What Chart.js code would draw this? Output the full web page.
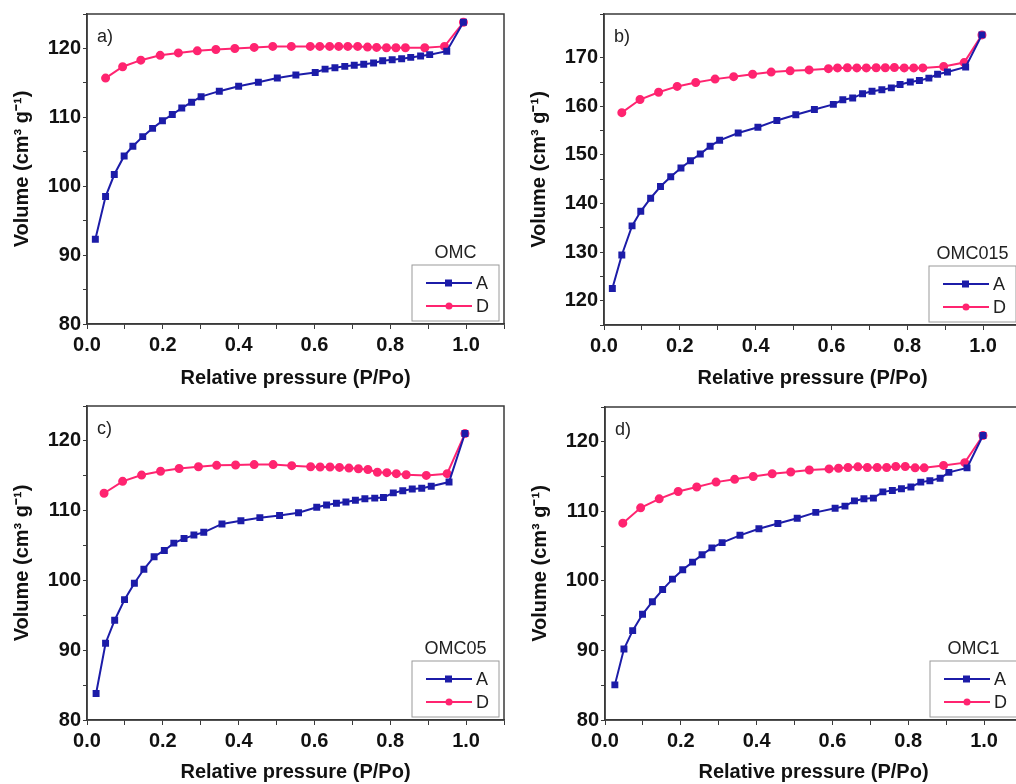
<!DOCTYPE html>
<html>
<head>
<meta charset="utf-8">
<script src="https://cdn.jsdelivr.net/npm/chart.js@4.4.0/dist/chart.umd.min.js"></script>
<style>
  html, body { margin: 0; padding: 0; background: #fff; overflow: hidden; }
  body { width: 1016px; height: 784px; position: relative; }
  canvas { position: absolute; }
</style>
</head>
<body>
<canvas id="panelA" width="510" height="392" style="left:0;top:0"></canvas>
<canvas id="panelB" width="510" height="392" style="left:517px;top:0"></canvas>
<canvas id="panelC" width="510" height="392" style="left:0;top:392px"></canvas>
<canvas id="panelD" width="510" height="392" style="left:518px;top:392px"></canvas>
<script>
// a) OMC
const omcAdsP = [0.022,0.049,0.072,0.098,0.121,0.147,0.173,0.199,0.225,0.25,0.276,0.301,0.349,0.40,0.452,0.502,0.551,0.602,0.628,0.654,0.68,0.705,0.73,0.756,0.78,0.805,0.83,0.854,0.88,0.904,0.949,0.993];
const omcAdsV = [92.3,98.5,101.7,104.4,105.8,107.2,108.4,109.5,110.4,111.35,112.2,113.0,113.8,114.5,115.1,115.7,116.15,116.5,117.0,117.2,117.4,117.55,117.7,117.9,118.2,118.35,118.5,118.7,118.9,119.1,119.6,123.8];
const omcDesP = [0.049,0.094,0.142,0.193,0.241,0.291,0.34,0.39,0.441,0.49,0.539,0.589,0.614,0.64,0.664,0.688,0.714,0.74,0.764,0.79,0.815,0.84,0.891,0.943,0.993];
const omcDesV = [115.7,117.35,118.3,119.0,119.35,119.65,119.85,120.0,120.15,120.3,120.3,120.3,120.3,120.3,120.3,120.3,120.3,120.2,120.15,120.1,120.1,120.1,120.1,120.3,123.8];

// b) OMC015
const omc015AdsP = [0.022,0.047,0.074,0.097,0.123,0.149,0.176,0.203,0.228,0.254,0.28,0.305,0.354,0.406,0.456,0.506,0.555,0.605,0.63,0.656,0.682,0.707,0.733,0.758,0.781,0.808,0.832,0.857,0.88,0.906,0.954,0.997];
const omc015AdsV = [122.5,129.4,135.4,138.4,141.1,143.5,145.5,147.3,148.8,150.2,151.8,153.0,154.5,155.7,157.1,158.25,159.35,160.4,161.35,161.7,162.6,163.1,163.4,163.8,164.5,165.0,165.3,165.8,166.6,167.05,168.1,174.7];
const omc015DesP = [0.047,0.095,0.144,0.193,0.242,0.293,0.342,0.392,0.441,0.491,0.541,0.592,0.616,0.642,0.667,0.692,0.718,0.742,0.766,0.792,0.817,0.841,0.896,0.95,0.997];
const omc015DesV = [158.7,161.4,162.9,164.1,164.9,165.6,166.1,166.6,167.05,167.3,167.5,167.75,167.9,167.95,167.9,167.9,167.95,167.95,168.0,167.9,167.9,167.9,168.2,169.0,174.7];

// c) OMC05
const omc05AdsP = [0.024,0.049,0.073,0.099,0.125,0.15,0.177,0.204,0.229,0.256,0.282,0.308,0.356,0.406,0.456,0.508,0.558,0.606,0.632,0.658,0.683,0.708,0.733,0.759,0.782,0.808,0.833,0.858,0.883,0.908,0.955,0.997];
const omc05AdsV = [83.8,91.0,94.3,97.25,99.6,101.6,103.4,104.3,105.35,106.0,106.5,106.9,108.1,108.55,109.0,109.3,109.7,110.5,110.8,111.05,111.25,111.5,111.7,111.8,111.9,112.55,112.85,113.1,113.2,113.5,114.1,121.05];
const omc05DesP = [0.045,0.094,0.144,0.194,0.243,0.294,0.342,0.392,0.441,0.491,0.54,0.59,0.615,0.641,0.666,0.691,0.716,0.741,0.766,0.791,0.816,0.842,0.895,0.95,0.997];
const omc05DesV = [112.5,114.2,115.1,115.65,116.05,116.3,116.5,116.55,116.6,116.6,116.45,116.3,116.25,116.25,116.2,116.1,116.0,115.9,115.5,115.45,115.3,115.15,115.05,115.3,121.05];

// d) OMC1
const omc1AdsP = [0.026,0.05,0.073,0.099,0.125,0.152,0.178,0.205,0.231,0.256,0.282,0.309,0.356,0.406,0.456,0.507,0.556,0.607,0.633,0.658,0.683,0.708,0.733,0.758,0.782,0.807,0.833,0.857,0.884,0.907,0.955,0.997];
const omc1AdsV = [85.05,90.2,92.85,95.2,97.0,98.75,100.25,101.6,102.7,103.75,104.75,105.5,106.55,107.5,108.25,109.0,109.85,110.45,110.75,111.5,111.8,111.9,112.8,113.0,113.25,113.5,114.2,114.4,114.75,115.6,116.25,120.9];
const omc1DesP = [0.047,0.094,0.143,0.193,0.242,0.293,0.342,0.391,0.441,0.49,0.539,0.591,0.616,0.641,0.667,0.692,0.718,0.743,0.767,0.792,0.818,0.842,0.893,0.949,0.997];
const omc1DesV = [108.3,110.5,111.8,112.85,113.5,114.2,114.6,115.0,115.4,115.65,115.95,116.1,116.2,116.3,116.4,116.3,116.3,116.3,116.45,116.45,116.25,116.25,116.6,117.0,120.9];

const seriesLabels = ["A", "D"];
const blue = "#1c1ca8";
const pink = "#ff2470";
const FONT = "'Liberation Sans', Arial, sans-serif";

function points(xs, ys) {
  return xs.map((x, i) => ({ x, y: ys[i] }));
}

// frame around the plot area + panel letter + legend box
const decorations = {
  id: "decorations",
  afterDraw(chart, args, opts) {
    const { ctx, chartArea: a } = chart;
    ctx.save();
    ctx.strokeStyle = "#3a3a3a";
    ctx.lineWidth = 1.5;
    ctx.strokeRect(a.left, a.top, a.right - a.left, a.bottom - a.top);

    ctx.fillStyle = "#222";
    ctx.font = `18px ${FONT}`;
    ctx.textBaseline = "middle";
    ctx.textAlign = "left";
    ctx.fillText(opts.letter, a.left + 10, a.top + 23);

    // legend
    const bw = 87, bh = 56;
    const bx = a.right - bw - 5, by = a.bottom - bh - 3;
    ctx.textAlign = "center";
    ctx.fillText(opts.title, bx + bw / 2, by - 12);
    ctx.strokeStyle = "#9a9a9a";
    ctx.lineWidth = 1;
    ctx.strokeRect(bx, by, bw, bh);
    chart.data.datasets.forEach((ds, i) => {
      const ly = by + 18 + i * 23;
      ctx.strokeStyle = ds.borderColor;
      ctx.lineWidth = 2;
      ctx.beginPath();
      ctx.moveTo(bx + 14, ly);
      ctx.lineTo(bx + 60, ly);
      ctx.stroke();
      ctx.fillStyle = ds.borderColor;
      if (ds.pointStyle === "rect") {
        ctx.fillRect(bx + 33, ly - 3.5, 7, 7);
      } else {
        ctx.beginPath();
        ctx.arc(bx + 37, ly, 3.5, 0, Math.PI * 2);
        ctx.fill();
      }
      ctx.fillStyle = "#222";
      ctx.textAlign = "left";
      ctx.fillText(ds.label, bx + 64, ly + 1);
    });
    ctx.restore();
  }
};

function makePanel(id, cfg) {
  new Chart(document.getElementById(id), {
    type: "scatter",
    data: {
      datasets: [
        { label: seriesLabels[0], data: points(cfg.adsP, cfg.adsV), showLine: true,
          borderColor: blue, backgroundColor: blue, borderWidth: 2,
          pointStyle: "rect", pointRadius: 3.5 },
        { label: seriesLabels[1], data: points(cfg.desP, cfg.desV), showLine: true,
          borderColor: pink, backgroundColor: pink, borderWidth: 2,
          pointStyle: "circle", pointRadius: 3.5 }
      ]
    },
    options: {
      responsive: false,
      animation: false,
      devicePixelRatio: 1,
      layout: { padding: { top: cfg.padTop, right: 3, left: 0, bottom: 0 } },
      plugins: {
        legend: { display: false },
        tooltip: { enabled: false },
        decorations: { letter: cfg.letter, title: cfg.title }
      },
      scales: {
        x: {
          type: "linear",
          min: 0,
          max: 1.1,
          afterFit: (s) => { s.height = cfg.xHeight; },
          border: { display: true, color: "#3a3a3a", width: 1.5 },
          grid: { drawOnChartArea: false, drawTicks: true, tickLength: 5, color: "#3a3a3a" },
          ticks: {
            stepSize: 0.1,
            autoSkip: false,
            maxRotation: 0,
            padding: 4,
            color: "#111",
            font: { family: FONT, size: 20, weight: "bold" },
            callback: (v) => {
              const n = Math.round(v * 10);
              return n % 2 === 0 && n <= 10 ? (n / 10).toFixed(1) : "";
            }
          },
          title: {
            display: true,
            text: "Relative pressure (P/Po)",
            color: "#111",
            font: { family: FONT, size: 20, weight: "bold" },
            padding: { top: 0, bottom: cfg.xTitlePad }
          }
        },
        y: {
          type: "linear",
          min: cfg.yMin,
          max: cfg.yMax,
          afterFit: (s) => { s.width = 87; },
          border: { display: true, color: "#3a3a3a", width: 1.5 },
          grid: { drawOnChartArea: false, drawTicks: true, tickLength: 4, color: "#3a3a3a" },
          ticks: {
            stepSize: 5,
            autoSkip: false,
            padding: 2,
            color: "#111",
            font: { family: FONT, size: 20, weight: "bold" },
            callback: (v) => (v % 10 === 0 ? String(v) : "")
          },
          title: {
            display: true,
            text: "Volume (cm³ g⁻¹)",
            color: "#111",
            font: { family: FONT, size: 20, weight: "bold" },
            padding: { top: 10, bottom: 0 }
          }
        }
      }
    },
    plugins: [decorations]
  });
}

makePanel("panelA", { letter: "a)", title: "OMC", adsP: omcAdsP, adsV: omcAdsV, desP: omcDesP, desV: omcDesV,
  yMin: 80, yMax: 125, padTop: 13, xHeight: 68, xTitlePad: 2 });
makePanel("panelB", { letter: "b)", title: "OMC015", adsP: omc015AdsP, adsV: omc015AdsV, desP: omc015DesP, desV: omc015DesV,
  yMin: 115, yMax: 179, padTop: 13, xHeight: 67, xTitlePad: 2 });
makePanel("panelC", { letter: "c)", title: "OMC05", adsP: omc05AdsP, adsV: omc05AdsV, desP: omc05DesP, desV: omc05DesV,
  yMin: 80, yMax: 125, padTop: 14, xHeight: 64, xTitlePad: 0 });
makePanel("panelD", { letter: "d)", title: "OMC1", adsP: omc1AdsP, adsV: omc1AdsV, desP: omc1DesP, desV: omc1DesV,
  yMin: 80, yMax: 125, padTop: 15, xHeight: 64, xTitlePad: 0 });
</script>
</body>
</html>
